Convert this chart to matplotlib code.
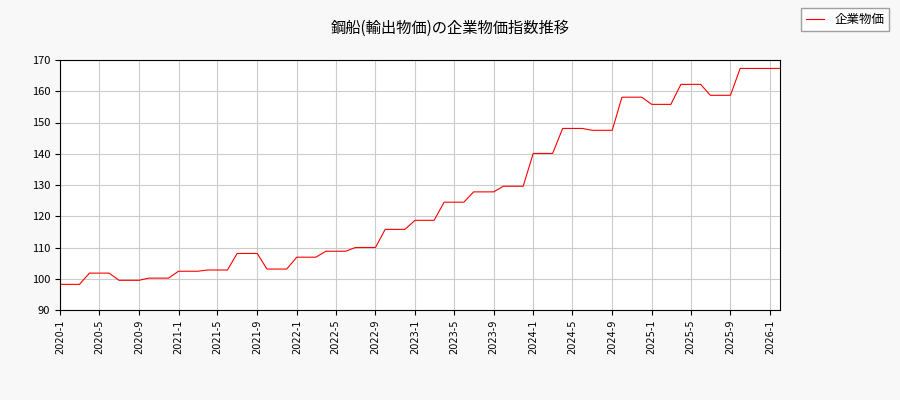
import matplotlib
matplotlib.use('Agg')
import matplotlib.pyplot as plt
import pandas as pd

plt.rcParams['font.family'] = ['Noto Sans CJK JP', 'DejaVu Sans']

# monthly index values, 2020-1 .. 2026-2
values = [98.2, 98.2, 98.2, 101.8, 101.8, 101.8, 99.5, 99.5, 99.5, 100.2, 100.2, 100.2,
          102.4, 102.4, 102.4, 102.8, 102.8, 102.8, 108.1, 108.1, 108.1, 103.1, 103.1, 103.1,
          106.9, 106.9, 106.9, 108.8, 108.8, 108.8, 110.0, 110.0, 110.0, 115.8, 115.8, 115.8,
          118.7, 118.7, 118.7, 124.5, 124.5, 124.5, 127.8, 127.8, 127.8, 129.6, 129.6, 129.6,
          140.1, 140.1, 140.1, 148.1, 148.1, 148.1, 147.5, 147.5, 147.5, 158.1, 158.1, 158.1,
          155.8, 155.8, 155.8, 162.2, 162.2, 162.2, 158.7, 158.7, 158.7, 167.3, 167.3, 167.3,
          167.3, 167.3]
dates = pd.date_range('2020-01-01', periods=len(values), freq='MS')
tick_dates = pd.date_range('2020-01-01', '2026-01-01', freq='4MS')
tick_labels = [f'{d.year}-{d.month}' for d in tick_dates]

fig = plt.figure(figsize=(9, 4), dpi=100, facecolor='#f8f8f8')
ax = fig.add_axes([60/900, 90/400, 720/900, 250/400])
ax.plot(dates, values, color='red', linewidth=0.8, label='企業物価')
ax.set_xlim(dates[0], dates[-1])
ax.set_ylim(90, 170)
ax.set_yticks(range(90, 171, 10))
ax.set_xticks(tick_dates)
ax.set_xticklabels(tick_labels, rotation=90, fontsize=7, family=['DejaVu Sans'])
ax.tick_params(axis='y', labelsize=8)
ax.grid(True, color='#cccccc', linewidth=0.8)
ax.set_axisbelow(True)
fig.suptitle('鋼船(輸出物価)の企業物価指数推移', fontsize=11, y=0.95)
fig.legend(loc='upper right', bbox_to_anchor=(0.995, 0.995), fontsize=9, fancybox=False,
           edgecolor='#888888', handlelength=1.5)
fig.savefig('out.png', facecolor=fig.get_facecolor())
